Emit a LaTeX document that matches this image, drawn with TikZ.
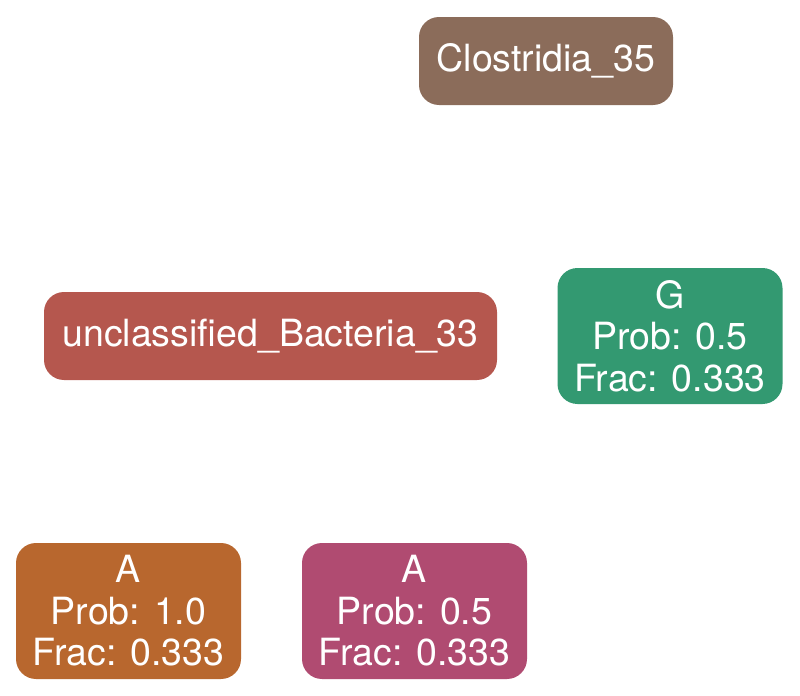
\documentclass[tikz,border=0pt]{standalone}
\usepackage{fontspec}
\setmainfont{TeX Gyre Heros}
\definecolor{clostbrown}{HTML}{8B6C5A}
\definecolor{bactred}{HTML}{B5574E}
\definecolor{ggreen}{HTML}{339971}
\definecolor{aorange}{HTML}{B8672E}
\definecolor{apink}{HTML}{B04B71}
\tikzset{
  taxon/.style={rectangle,rounded corners=10pt,inner sep=0pt,text=white,
    minimum height=44pt,align=center,font=\fontsize{18.75}{20.75}\selectfont},
  allele/.style={taxon,minimum width=112.5pt,minimum height=68pt}
}
\begin{document}
\begin{tikzpicture}[x=0.5pt,y=-0.5pt]
\useasboundingbox (0,0) rectangle (800,696);

% taxa
\node[taxon,fill=clostbrown,minimum width=127pt] (clost) at (546,61) {Clostridia\_35};
\node[taxon,fill=bactred,minimum width=226.5pt] (bact) at (270.5,336) {unclassified\_Bacteria\_33};

% alleles
\node[allele,fill=ggreen] (g) at (670,336) {G\\Prob: 0.5\\Frac: 0.333};
\node[allele,fill=aorange] (a1) at (128.5,611) {A\\Prob: 1.0\\Frac: 0.333};
\node[allele,fill=apink] (a2) at (414.5,611) {A\\Prob: 0.5\\Frac: 0.333};

\end{tikzpicture}
\end{document}
